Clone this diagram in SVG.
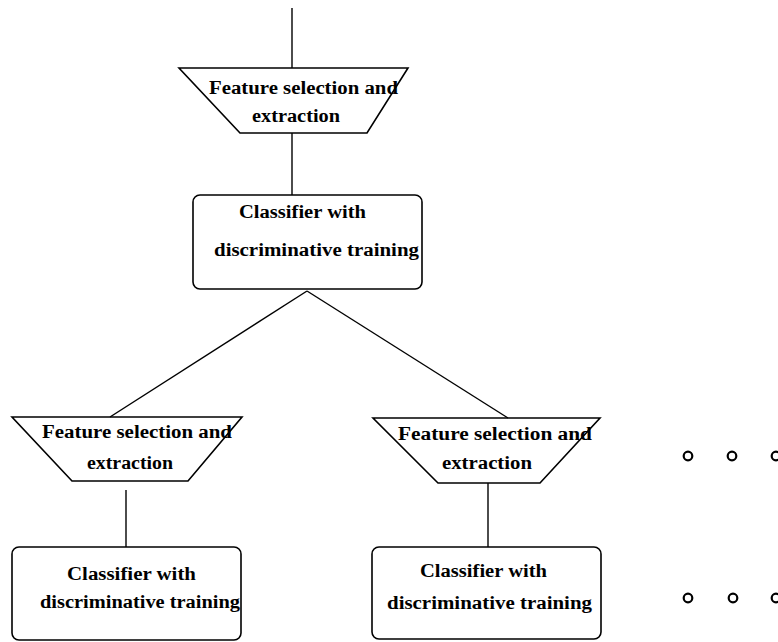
<svg xmlns="http://www.w3.org/2000/svg" width="778" height="642" viewBox="0 0 778 642">
<style>
.shape{fill:none;stroke:#000;stroke-width:1.6}
.conn{fill:none;stroke:#000;stroke-width:1.4}
.dot{fill:none;stroke:#000;stroke-width:2.2}
text{font-family:"Liberation Serif","Times New Roman",serif;font-size:18px;font-weight:bold;fill:#000}
</style>
<rect width="778" height="642" fill="#fff"/>
<g id="connectors">
<line class="conn" x1="292" y1="8" x2="292" y2="68"/>
<line class="conn" x1="292" y1="133" x2="292" y2="195"/>
<line class="conn" x1="307" y1="291" x2="110" y2="417"/>
<line class="conn" x1="307" y1="291" x2="508" y2="418"/>
<line class="conn" x1="126" y1="490" x2="126" y2="547"/>
<line class="conn" x1="488" y1="483" x2="488" y2="547"/>
</g>
<g id="fse-top">
<polygon class="shape" points="179,68 408,68 367,133 240,133"/>
<text x="209" y="94" textLength="189" lengthAdjust="spacingAndGlyphs">Feature selection and</text>
<text x="252" y="122" textLength="88" lengthAdjust="spacingAndGlyphs">extraction</text>
</g>
<g id="cls-top">
<rect class="shape" x="193" y="195" width="229" height="94" rx="7"/>
<text x="239" y="218" textLength="127" lengthAdjust="spacingAndGlyphs">Classifier with</text>
<text x="214" y="256" textLength="205" lengthAdjust="spacingAndGlyphs">discriminative training</text>
</g>
<g id="fse-left">
<polygon class="shape" points="12,417 242,417 188,481 72,481"/>
<text x="42" y="438" textLength="190" lengthAdjust="spacingAndGlyphs">Feature selection and</text>
<text x="87" y="469" textLength="86" lengthAdjust="spacingAndGlyphs">extraction</text>
</g>
<g id="cls-left">
<rect class="shape" x="12" y="547" width="229" height="93" rx="7"/>
<text x="67" y="580" textLength="129" lengthAdjust="spacingAndGlyphs">Classifier with</text>
<text x="40" y="608" textLength="200" lengthAdjust="spacingAndGlyphs">discriminative training</text>
</g>
<g id="fse-right">
<polygon class="shape" points="373,418 600,418 540,483 438,483"/>
<text x="398" y="440" textLength="194" lengthAdjust="spacingAndGlyphs">Feature selection and</text>
<text x="442" y="469" textLength="90" lengthAdjust="spacingAndGlyphs">extraction</text>
</g>
<g id="cls-right">
<rect class="shape" x="372" y="547" width="229" height="92" rx="7"/>
<text x="420" y="577" textLength="127" lengthAdjust="spacingAndGlyphs">Classifier with</text>
<text x="387" y="609" textLength="205" lengthAdjust="spacingAndGlyphs">discriminative training</text>
</g>
<g id="ellipsis-top">
<circle class="dot" cx="688" cy="456" r="4.3"/>
<circle class="dot" cx="732" cy="456" r="4.3"/>
<circle class="dot" cx="776" cy="456" r="4.3"/>
</g>
<g id="ellipsis-bottom">
<circle class="dot" cx="688" cy="598" r="4.3"/>
<circle class="dot" cx="733" cy="598" r="4.3"/>
<circle class="dot" cx="776" cy="598" r="4.3"/>
</g>
</svg>
